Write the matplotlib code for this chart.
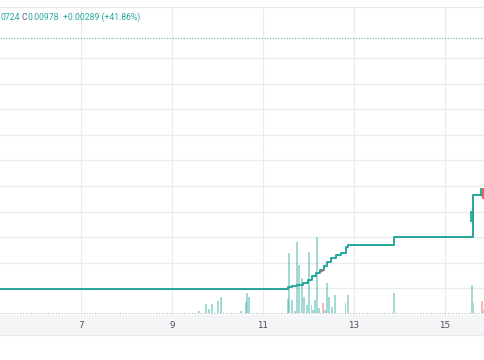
import matplotlib.pyplot as plt
from matplotlib.patches import Rectangle

# price steps (day of month, price after the step)
step_days = [5.20, 11.55, 11.64, 11.75, 11.88, 11.99, 12.08, 12.17, 12.25, 12.34,
             12.41, 12.50, 12.60, 12.71, 12.82, 12.87, 13.88, 15.61, 15.78, 15.82]
step_price = [0.00799, 0.00803, 0.00805, 0.00807, 0.00811, 0.00816, 0.00824, 0.00830,
              0.00836, 0.00844, 0.00852, 0.00859, 0.00865, 0.00869, 0.00881, 0.00885,
              0.00900, 0.00982, 0.00982, 0.00982]

# a few visible candles: day, open, close, high, low
candle_days = [12.30, 15.585, 15.79, 15.85]
candle_open = [0.00836, 0.00930, 0.00982, 0.00996]
candle_close = [0.00833, 0.00952, 0.00996, 0.00974]
candle_high = [0.00837, 0.00955, 0.00997, 0.01011]
candle_low = [0.00832, 0.00928, 0.00981, 0.00972]

# volume bars (day, volume in millions, down bar?)
vol_days = [9.59, 9.75, 9.81, 9.88, 10.01, 10.08, 10.52, 10.63, 10.65, 10.69,
            11.55, 11.57, 11.64, 11.70, 11.75, 11.79, 11.86, 11.90, 11.97, 12.01,
            12.06, 12.10, 12.14, 12.19, 12.23, 12.32, 12.36, 12.41, 12.45, 12.52,
            12.58, 12.82, 12.87, 13.88, 15.59, 15.62, 15.81, 15.86]
vol_values = [0.2, 0.9, 0.4, 0.9, 1.2, 1.6, 0.2, 1.1, 2.0, 1.6,
              1.4, 6.0, 1.3, 0.2, 7.1, 4.8, 3.5, 1.6, 0.8, 6.1,
              0.8, 0.3, 1.3, 7.6, 0.5, 1.0, 0.3, 3.0, 1.6, 0.6,
              1.8, 1.0, 1.8, 2.0, 2.8, 1.0, 1.2, 0.3]
vol_down = [False] * 25 + [True] + [False] * 10 + [True, True]

day_ticks = [7, 9, 11, 13, 15]
price_grid = [0.0080, 0.0085, 0.0090, 0.0095, 0.0100, 0.0105, 0.0110, 0.0115, 0.0120, 0.0125]
high_line = 0.01289

up = '#26a69a'
down = '#ef5350'
bg = '#f4f5f7'
grid = '#e9ebee'

p_lo, p_hi = 0.0074805, 0.013496

fig = plt.figure(figsize=(4.85, 3.6), dpi=100, facecolor='white')
W, H = 485, 360
ax = fig.add_axes([0, (H - 315) / H, 1, 308 / H])
vol = ax.twinx()

# bottom strip for the time axis
fig.patches.append(Rectangle((0, (H - 335) / H), 1, 20 / H, transform=fig.transFigure,
                             facecolor=bg, edgecolor='none', zorder=0))
fig.add_artist(plt.Line2D([0, 1], [(H - 335) / H] * 2, color='#e8eaee', lw=0.8))

# volume on its own scale, behind the price
vol.set_zorder(1)
ax.set_zorder(2)
ax.patch.set_visible(False)
vol.patch.set_facecolor(bg)
vol.set_ylim(-0.2, 30.6)
for x in day_ticks:
    vol.axvline(x, color=grid, lw=0.8, zorder=0)
for p in price_grid:
    vol.axhline((p - p_lo) / (p_hi - p_lo) * 30.8 - 0.2, color=grid, lw=0.8, zorder=0)
vol_colors = [down if d else up for d in vol_down]
vol.bar(vol_days, vol_values, width=0.03, color=vol_colors, alpha=0.42, linewidth=0, zorder=2)
vol.axhline(0, color='#b5bac2', lw=0.8, ls=(0, (1, 1.5)), zorder=3)
vol.set_yticks([])

# price
ax.step(step_days, step_price, where='post', color=up, lw=1.4, zorder=3)
for d, o, c, h, l in zip(candle_days, candle_open, candle_close, candle_high, candle_low):
    col = up if c >= o else down
    ax.vlines(d, l, h, color=col, lw=0.8, alpha=0.6, zorder=4)
    ax.bar(d, abs(c - o), bottom=min(o, c), width=0.055, color=col, linewidth=0,
           alpha=0.9, zorder=4)
ax.axhline(high_line, color=up, lw=0.8, ls=(0, (1, 1.5)), alpha=0.8)

ax.set_xlim(5.22, 15.879)
ax.set_ylim(p_lo, p_hi)
ax.set_xticks(day_ticks)
ax.set_xticklabels([str(d) for d in day_ticks])
ax.set_yticks([])
ax.tick_params(axis='x', length=0, pad=4, labelsize=6.3, labelcolor='#4d4f55')
for a in (ax, vol):
    for s in a.spines.values():
        s.set_visible(False)

# header line and legend text
fig.add_artist(plt.Line2D([0, 1], [(H - 7) / H] * 2, color='#e8eaee', lw=0.8))
ty = (H - 17.5) / H
txt = dict(fontsize=6.2, family='Roboto', va='center', ha='left')
fig.text(0.5 / W, ty, '0724', color=up, **txt)
fig.text(21.5 / W, ty, 'C', color='#555a60', **txt)
fig.text(27 / W, ty, '0.00978', color=up, **txt)
fig.text(63 / W, ty, '+0.00289 (+41.86%)', color=up, **txt)

fig.savefig('out.png', dpi=100, facecolor='white')
